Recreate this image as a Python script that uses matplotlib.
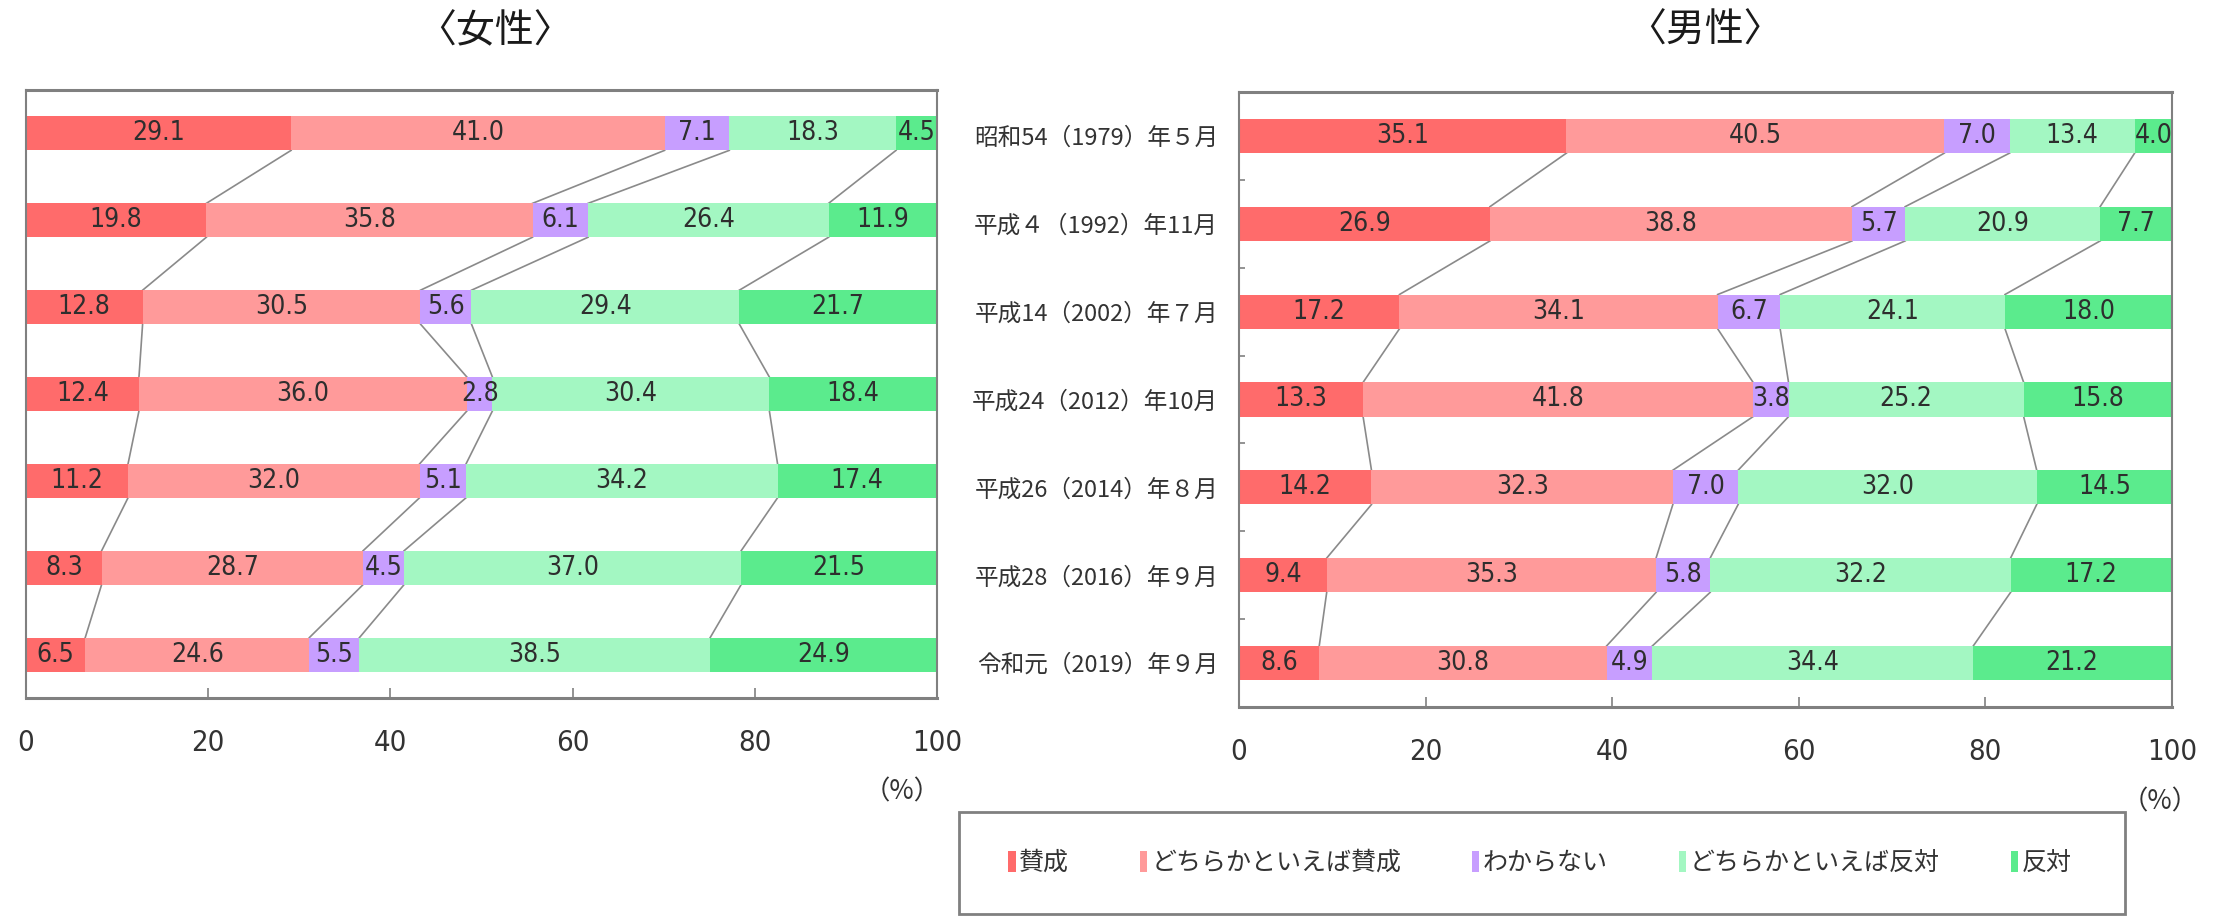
import numpy as np
import matplotlib
matplotlib.use("Agg")
import matplotlib.pyplot as plt
from matplotlib.patches import Patch, Rectangle

plt.rcParams['font.family'] = ['Noto Sans CJK JP', 'DejaVu Sans']

periods = ["昭和54（1979）年５月", "平成４（1992）年11月", "平成14（2002）年７月",
           "平成24（2012）年10月", "平成26（2014）年８月", "平成28（2016）年９月",
           "令和元（2019）年９月"]
categories = ["賛成", "どちらかといえば賛成", "わからない", "どちらかといえば反対", "反対"]
colors = ["#FF6B6B", "#FF9A9A", "#C79EFF", "#A3F7C2", "#5BEB8D"]

# women
f_agree = [29.1, 19.8, 12.8, 12.4, 11.2, 8.3, 6.5]
f_rather_agree = [41.0, 35.8, 30.5, 36.0, 32.0, 28.7, 24.6]
f_unknown = [7.1, 6.1, 5.6, 2.8, 5.1, 4.5, 5.5]
f_rather_oppose = [18.3, 26.4, 29.4, 30.4, 34.2, 37.0, 38.5]
f_oppose = [4.5, 11.9, 21.7, 18.4, 17.4, 21.5, 24.9]

# men
m_agree = [35.1, 26.9, 17.2, 13.3, 14.2, 9.4, 8.6]
m_rather_agree = [40.5, 38.8, 34.1, 41.8, 32.3, 35.3, 30.8]
m_unknown = [7.0, 5.7, 6.7, 3.8, 7.0, 5.8, 4.9]
m_rather_oppose = [13.4, 20.9, 24.1, 25.2, 32.0, 32.2, 34.4]
m_oppose = [4.0, 7.7, 18.0, 15.8, 14.5, 17.2, 21.2]

BAR_H = 0.39
GRAY = "#808080"
NUM_FONT = dict(family="DejaVu Sans", fontstretch="condensed")


def draw_panel(ax, series):
    y = np.arange(len(periods))
    left = np.zeros(len(periods))
    edges = []
    for vals, color, name in zip(series, colors, categories):
        bars = ax.barh(y, vals, left=left, height=BAR_H, color=color, label=name, zorder=2)
        ax.bar_label(bars, labels=[f"{v:.1f}" for v in vals], label_type="center",
                     fontsize=19, color="#2e2e2e", zorder=3, **NUM_FONT)
        left = left + np.array(vals)
        edges.append(left.copy())

    # guide lines joining the segment boundaries of neighbouring bars
    for e in edges[:-1]:
        for i in range(len(periods) - 1):
            ax.plot([e[i], e[i + 1]], [i + BAR_H / 2, i + 1 - BAR_H / 2],
                    color="#8a8a8a", lw=1.2, zorder=1)

    ax.set_xlim(0, 100)
    ax.set_ylim(len(periods) - 0.5, -0.5)
    ax.set_xticks(range(0, 101, 20), [str(t) for t in range(0, 101, 20)],
                  fontsize=21, color="#333333", **NUM_FONT)
    ax.tick_params(axis="x", direction="in", length=7, width=1.2, color=GRAY, pad=22)
    for side, sp in ax.spines.items():
        sp.set_color(GRAY)
        sp.set_linewidth(2.2 if side in ("top", "bottom") else 1.5)


fig = plt.figure(figsize=(22.19, 9.17), dpi=100)
W, H = 2219, 917

ax_f = fig.add_axes([26 / W, 1 - 698 / H, (937 - 26) / W, (698 - 90) / H])
ax_m = fig.add_axes([1239 / W, 1 - 707 / H, (2172 - 1239) / W, (707 - 92) / H])

draw_panel(ax_f, [f_agree, f_rather_agree, f_unknown, f_rather_oppose, f_oppose])
draw_panel(ax_m, [m_agree, m_rather_agree, m_unknown, m_rather_oppose, m_oppose])

ax_f.set_yticks([])
ax_m.set_yticks(np.arange(len(periods)), periods, fontsize=17, color="#333333")
ax_m.tick_params(axis="y", which="major", length=0, pad=15)
ax_m.set_yticks(np.arange(0.5, len(periods) - 1, 1), minor=True)
ax_m.tick_params(axis="y", which="minor", direction="in", length=4, width=1.2, color=GRAY)

fig.text(495 / W, 1 - 31 / H, "〈女性〉", fontsize=28, ha="center", va="center", color="#1a1a1a")
fig.text(1705 / W, 1 - 31 / H, "〈男性〉", fontsize=28, ha="center", va="center", color="#1a1a1a")
fig.text(902 / W, 1 - 792 / H, "（%）", fontsize=19, ha="center", va="center", color="#333333")
fig.text(2160 / W, 1 - 802 / H, "（%）", fontsize=19, ha="center", va="center", color="#333333")

# legend box
fig.patches.append(Rectangle((959 / W, 1 - 914 / H), (2125 - 959) / W, (914 - 812) / H,
                             transform=fig.transFigure, fill=False, edgecolor=GRAY, lw=2))
handles = [Patch(facecolor=c, edgecolor="none") for c in colors]
fig.legend(handles, categories, loc="center", ncol=5, mode="expand", frameon=False,
           bbox_to_anchor=(1008 / W, 1 - 914 / H, (2072 - 1008) / W, (914 - 812) / H),
           fontsize=18, handlelength=0.3, handleheight=0.9, handletextpad=0.15,
           borderaxespad=0, borderpad=0, labelcolor="#333333")

fig.savefig("out.png", dpi=100)
